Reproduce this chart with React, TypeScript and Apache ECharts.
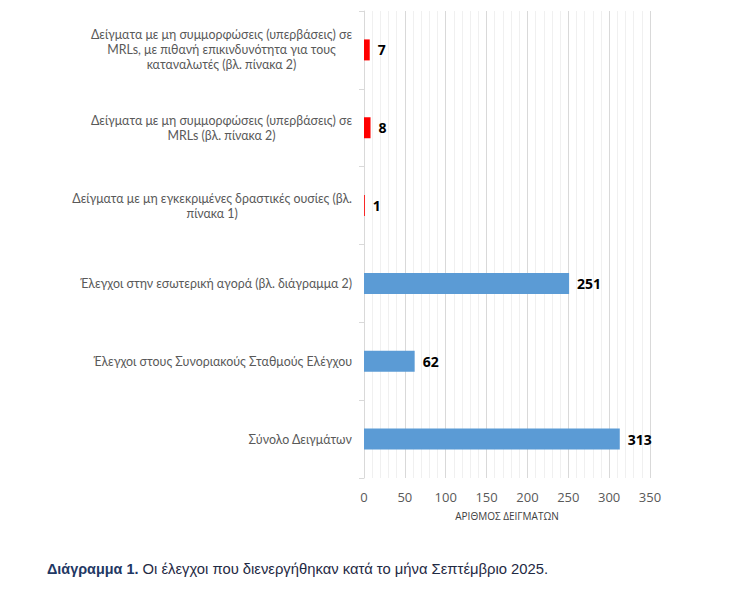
import React, { useEffect, useRef } from "react";
import * as echarts from "echarts";

const categories: string[] = [
  "Σύνολο Δειγμάτων",
  "Έλεγχοι στους Συνοριακούς Σταθμούς Ελέγχου",
  "Έλεγχοι στην εσωτερική αγορά (βλ. διάγραμμα 2)",
  "Δείγματα με μη εγκεκριμένες δραστικές ουσίες (βλ.\nπίνακα 1)",
  "Δείγματα με μη συμμορφώσεις (υπερβάσεις) σε\nMRLs (βλ. πίνακα 2)",
  "Δείγματα με μη συμμορφώσεις (υπερβάσεις) σε\nMRLs, με πιθανή επικινδυνότητα για τους\nκαταναλωτές (βλ. πίνακα 2)",
];
const values: number[] = [313, 62, 251, 1, 8, 7];
const barColors: string[] = ["#5B9BD5", "#5B9BD5", "#5B9BD5", "#FF0000", "#FF0000", "#FF0000"];
const xAxisTitle = "ΑΡΙΘΜΟΣ ΔΕΙΓΜΑΤΩΝ";
const captionBold = "Διάγραμμα 1.";
const captionRest = " Οι έλεγχοι που διενεργήθηκαν κατά το μήνα Σεπτέμβριο 2025.";

export default function App() {
  const ref = useRef<HTMLDivElement>(null);
  useEffect(() => {
    if (!ref.current) return;
    const chart = echarts.init(ref.current, undefined, { renderer: "svg" });
    chart.setOption({
      animation: false,
      backgroundColor: "#ffffff",
      grid: { left: 364, right: 98, top: 11, bottom: 112, containLabel: false },
      xAxis: {
        type: "value",
        min: 0,
        max: 350,
        interval: 50,
        name: xAxisTitle,
        nameLocation: "middle",
        nameGap: 33,
        nameTextStyle: { color: "#404040", fontSize: 10, fontFamily: "Open Sans" },
        axisLine: { show: false },
        axisTick: { show: false },
        axisLabel: { color: "#595959", fontSize: 13, fontFamily: "Open Sans", margin: 12 },
        splitLine: { show: true, lineStyle: { color: "#d9d9d9", width: 1 } },
        minorTick: { show: false, splitNumber: 5 },
        minorSplitLine: { show: true, lineStyle: { color: "#f0f0f0", width: 1 } },
      },
      yAxis: {
        type: "category",
        data: categories,
        axisLine: { show: true, lineStyle: { color: "#d9d9d9" } },
        axisTick: { show: true, length: 5, lineStyle: { color: "#d9d9d9" } },
        axisLabel: {
          margin: 12,
          color: "#595959",
          fontSize: 12.4,
          fontFamily: "Lato",
          lineHeight: 15,
          formatter: (v: string) =>
            v
              .split("\n")
              .map((l) => "{c|" + l + "}")
              .join("\n"),
          rich: {
            c: { align: "center", color: "#595959", fontSize: 12.4, fontFamily: "Lato", lineHeight: 15 },
          },
        },
      },
      series: [
        {
          type: "bar",
          data: values.map((v, i) => ({ value: v, itemStyle: { color: barColors[i] } })),
          barWidth: 21,
          label: {
            show: true,
            position: "right",
            distance: 8,
            color: "#000000",
            fontSize: 14,
            fontWeight: "bold",
            fontFamily: "Open Sans",
          },
        },
      ],
      graphic: [
        {
          type: "text",
          left: 47,
          top: 561,
          style: {
            text: "{b|" + captionBold + "}{r|" + captionRest + "}",
            rich: {
              b: { fontFamily: "Liberation Sans", fontSize: 14.4, fontWeight: "bold", fill: "#1F3864" },
              r: { fontFamily: "Liberation Sans", fontSize: 14.8, fill: "#1F2A44" },
            },
          },
        },
      ],
    });
    return () => chart.dispose();
  }, []);
  return <div ref={ref} style={{ position: "fixed", left: 0, top: 0, width: 748, height: 590 }} />;
}
